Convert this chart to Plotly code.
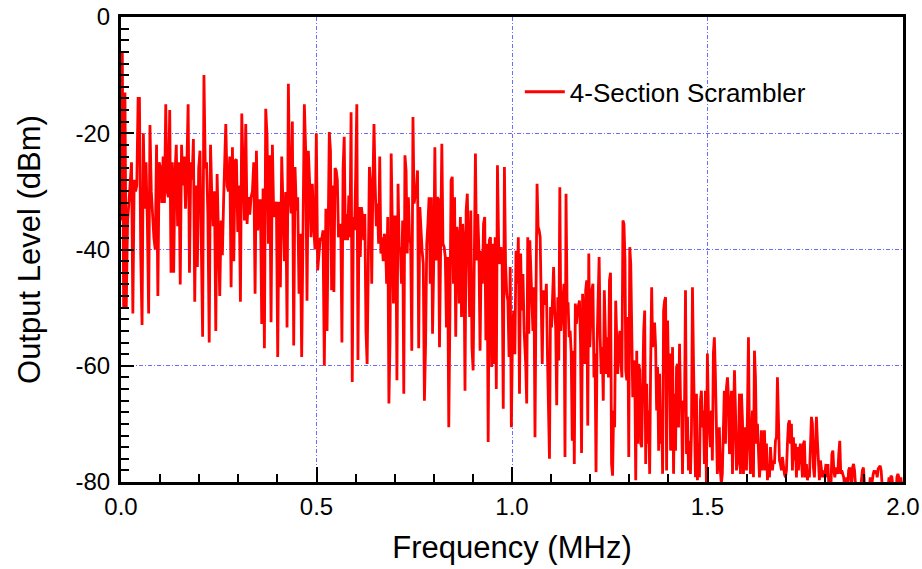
import numpy as np
import plotly.graph_objects as go

# Output level (dBm), segment by segment (left to right)
level_seg1 = [-35, -6, -50, -13, -50, -35, -32, -28, -25, -51, -28, -30, -29, -14, -14, -41, -53, -20, -33, -25, -35, -51,
              -18.6, -30, -35, -38, -40, -22, -48, -25, -26, -32, -24, -32, -15, -30, -31, -16, -44, -25, -44, -27,
              -22, -36, -25, -46, -22, -29, -24, -33, -26, -15, -44, -25, -28, -21, -49, -29, -43, -26, -23, -44,
              -55, -10, -26, -25, -34, -56, -22, -31, -36, -30, -54, -27, -36, -48, -35, -41, -31, -19]
level_seg2 = [-18.4, -29, -30, -24, -46.5, -22.4, -42, -24.7, -24.5, -37, -29, -49, -16.6, -26.4, -35, -18.4, -35.6,
              -31, -34, -31, -30, -25, -47.6, -23, -36.7, -31.6, -31.6, -52.8, -29.5, -57, -15.8, -20.6, -39, -23.8,
              -52.5, -22, -34.4, -32.7, -31.8, -58.5, -31.8, -46.5, -24, -32.7, -42, -30.1, -53.4, -11.5, -29.8,
              -33.8, -18, -56.5, -25.8, -33.3, -31, -47.6, -37.3, -58.5, -32.7, -15, -23, -48.8, -23, -28.7, -37.9,
              -28.7, -36, -40, -20, -43.6, -40.7, -38, -38.4, -36.7, -60]
level_seg3 = [-33, -54, -36, -19.8, -23, -47, -29, -47.3, -26, -26.4, -28.1, -37.9, -36.1, -35.6, -56, -26.1, -20.6,
              -38.4, -33.9, -38.4, -30.7, -37.9, -16.4, -62.8, -34.4, -36.7, -27.5, -15, -59, -32.7, -41.3, -32.7,
              -34.4, -38.4, -33.9, -54, -59.7, -36.7, -25.8, -29, -45.9, -29.3, -18.4, -28.7, -36, -32.1, -39, -24,
              -40.7, -37.9, -42, -37.3, -38.4, -45.9, -34.4, -66.5, -55.6, -23.5, -33.3, -49.3, -34.4, -34.4, -62.5,
              -28.7, -40.2, -39.6, -45.9, -35, -64.8, -23.8, -26.4, -40.7, -31, -37.9, -39, -57.4, -17.2, -32.1,
              -30.7, -29.8, -26.4, -57, -32.7, -37.9, -40.2, -42.5, -66]
level_seg4 = [-56.2, -39, -35.6, -31, -45.9, -31, -54.5, -42.5, -22.4, -41.9, -31, -31.3, -56.8, -31, -21.8, -39,
              -39.6, -41.3, -53.4, -41.3, -70.6, -51.1, -28.1, -27.5, -45.9, -31, -55, -36.1, -37.9, -49.3, -34.4,
              -51.6, -35.6, -39, -64.3, -33.3, -30.4, -41.3, -51.6, -33.3, -56.8, -60.8, -42.5, -23.5, -41.9, -33.9,
              -40.2, -57.4, -40.2, -45.9, -35.6, -34.4, -55.6, -39, -73.1, -38.4, -37.9, -60.2, -39, -59.7, -37.9,
              -64, -25.5, -39, -42.5, -39.6, -41.9, -67.4, -25.8, -42.5, -47.6, -48.8, -58.5, -43, -70.6, -54,
              -50.5, -58, -40.2, -45.9, -37.9, -64.8, -40.7, -50.5, -44.2, -54]
level_seg5 = [-59.7, -66.5, -37.9, -54.5, -38.4, -44.2, -48.8, -54, -46.5, -72.3, -47, -28.7, -36.1, -36.7, -37.9,
              -52.2, -59.7, -47, -49.3, -49.3, -45.9, -57.9, -66.8, -76, -49.9, -53.4, -48.2, -43, -50.5, -53.4,
              -66.8, -48.2, -59.1, -29.3, -54, -51.6, -48.2, -45.9, -75.7, -30.4, -49.3, -49.3, -55.1, -54, -57.9,
              -72.9, -57.4, -76.9, -49.3, -52.8, -50.5, -49.3, -48.8, -56.2, -75, -47.6, -53.4, -59.7, -47, -45.3,
              -70.3, -40.7, -56.8, -50.5, -47, -45.9, -62, -57.9, -78.3, -56.2, -47.6, -41.3, -55.1, -61.4, -56.8,
              -66, -47, -56.2, -61.4, -55.1, -62, -45.3, -44, -76.9, -78.9, -67.7, -70.6, -48.8, -56.2, -61.4,
              -56.2, -54, -59.1, -62, -35, -35.6, -41.9]
level_seg6 = [-60.8, -62.5, -51.6, -75.7, -39.6, -42.5, -59.1, -65.4, -59.1, -60.2, -79.7, -57.4, -73.4, -59.7,
              -60.8, -73.4, -74, -62, -54, -50.5, -76.9, -63.1, -73.4, -67.7, -78.6, -59.7, -46.5, -56.8, -52.8,
              -52.8, -56.8, -67.7, -60.2, -74.6, -61.4, -73.4, -67.7, -78.6, -50.5, -48.8, -48.2, -78, -52.2, -62.5,
              -57.9, -74.6, -67.7, -56.8, -78.6, -64.8, -74.6, -60.2, -59.7, -70.6, -56.2, -66, -66.5, -78.6, -66,
              -67.7, -47, -75.2, -68.8, -78, -72.9, -78.6, -71.1, -46.5, -59.1, -67.7, -79.2, -64.8, -79.7, -73.4,
              -79.2, -66, -64.3, -70.6, -67.7, -76.9, -64.3, -80.3, -57.9, -67.7, -71.1, -74, -67.7, -76.3, -57.9,
              -55.1, -61.4, -67.7, -78.6, -73.4, -70.6, -78, -80.3, -78.6, -71.1, -64.3]
level_seg7 = [-73.4, -63.7, -62, -65.4, -75.2, -70.6, -64.3, -78.6, -71.1, -60.8, -67.7, -78, -76.9, -73.4, -64.8,
              -78.6, -64.8, -69.4, -78.6, -70.6, -72.3, -78, -67.7, -55.1, -73.4, -78.6, -71.1, -67.7, -79.2, -57.4,
              -62, -73.4, -70, -76.3, -79.2, -76.3, -71.1, -78, -74, -71.1, -78, -73.4, -79.7, -76.9, -79.2, -74,
              -76.9, -78, -76.3, -76.9, -72.9, -72.3, -62, -71.1, -76.3, -76.9, -78, -75.7, -77.5, -78.6, -79.2,
              -78, -73.4, -70, -69.4, -73.4, -70, -78, -72.3, -76.3, -73.4, -79.2, -74, -78, -74.6, -73.4, -76.3,
              -79.2, -73.4, -72.9, -79.2, -76.9, -79.7, -78, -79.2, -73.4, -68.8, -70, -77.5, -79.2, -75.2, -68.8,
              -72.9, -77.5, -79.7, -76.3, -78.6, -79.2, -78, -79.2]
level_seg8 = [-76.9, -79.2, -76.9, -81, -79.2, -81, -75.2, -74.6, -78, -79.2, -77.5, -78, -78.6, -75.2, -72.9, -78.6,
              -78, -78.6, -79.2, -81, -81, -79.2, -81, -78, -77.5, -78.6, -81, -77.5, -76.9, -78, -81, -83, -81,
              -81, -83, -81, -79.2, -78, -77.5, -81, -83, -83, -83, -83, -81, -79.2, -81, -79.2, -78.6, -78, -78.6,
              -78, -79.2, -77.7, -77.5, -77.2, -78, -81, -83, -83, -83, -81, -83, -81, -79.2, -81, -78.9, -79.2,
              -81, -83, -81, -83, -79.2, -78.6, -79.2, -81, -79.2, -81]

# Frequency span (MHz) covered by each segment above
seg_start = [0.0, 0.268, 0.524, 0.779, 1.035, 1.291, 1.546, 1.803]
seg_end = [0.266, 0.520, 0.776, 1.031, 1.289, 1.543, 1.799, 1.997]

segments = [level_seg1, level_seg2, level_seg3, level_seg4, level_seg5, level_seg6, level_seg7, level_seg8]
freq, level = [], []
for lv, a, b in zip(segments, seg_start, seg_end):
    freq.extend(np.linspace(a, b, len(lv)).tolist())
    level.extend(lv)

series_name = "4-Section Scrambler"
x_ticks = [0.0, 0.5, 1.0, 1.5, 2.0]
x_labels = ["0.0", "0.5", "1.0", "1.5", "2.0"]
y_ticks = [0, -20, -40, -60, -80]
y_labels = ["0", "-20", "-40", "-60", "-80"]

FONT = "Liberation Sans, Arial, sans-serif"
GRID = "#6c6cff"

fig = go.Figure()
fig.add_trace(go.Scatter(x=freq, y=level, mode="lines", name=series_name,
                         line=dict(color="#ff0000", width=2.8), showlegend=True))

axis_common = dict(showline=True, linecolor="black", linewidth=3, mirror=True,
                   ticks="inside", tickcolor="black", tickwidth=2, automargin=False,
                   ticklabeloverflow="allow",
                   showgrid=True, gridcolor=GRID, gridwidth=1, griddash="4px,2px,1px,2px",
                   zeroline=False, tickfont=dict(family=FONT, size=24, color="black"))

fig.update_xaxes(range=[0, 2.0], tickvals=x_ticks, ticktext=x_labels, ticklen=15, ticklabelstandoff=1,
                 minor=dict(dtick=0.1, ticks="inside", ticklen=8, tickcolor="black", tickwidth=2, showgrid=False),
                 title=dict(text="Frequency (MHz)", font=dict(family=FONT, size=31, color="black"), standoff=18),
                 **axis_common)
fig.update_yaxes(range=[-80, 0], tickvals=y_ticks, ticktext=y_labels, ticklen=13, ticklabelstandoff=3,
                 minor=dict(dtick=2, ticks="inside", ticklen=8, tickcolor="black", tickwidth=2, showgrid=False),
                 title=dict(text="Output Level (dBm)", font=dict(family=FONT, size=31, color="black"), standoff=26),
                 **axis_common)

fig.update_layout(
    width=922, height=569,
    margin=dict(l=121, r=19, t=17, b=87),
    paper_bgcolor="white", plot_bgcolor="white",
    font=dict(family=FONT, color="black"),
    legend=dict(x=0.51, y=0.839, xanchor="left", yanchor="middle", itemwidth=40,
                bgcolor="rgba(0,0,0,0)", borderwidth=0,
                font=dict(family=FONT, size=26, color="black")),
)

# remove the page's default body margin so the figure sits at the window's top-left corner
fig.write_html("out.html", config={"displayModeBar": False},
               post_script="document.body.style.margin='0px';")
